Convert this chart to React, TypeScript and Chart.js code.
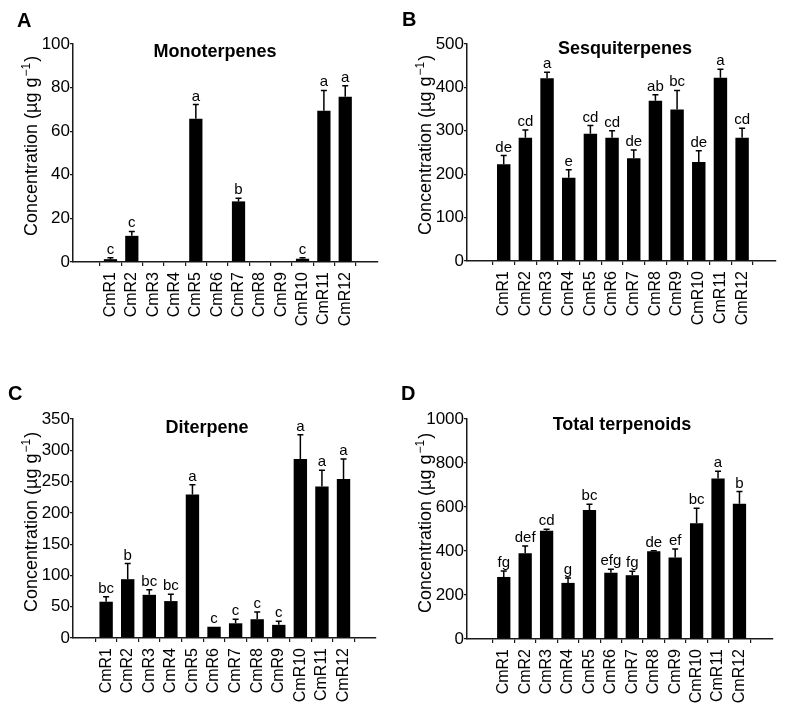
import React, { useEffect, useRef } from "react";
import { Chart, registerables } from "chart.js";

Chart.register(...registerables);

const FAMILY = "'Liberation Sans', Arial, Helvetica, sans-serif";

const categories = ["CmR1", "CmR2", "CmR3", "CmR4", "CmR5", "CmR6", "CmR7", "CmR8", "CmR9", "CmR10", "CmR11", "CmR12"];

// Panel A – Monoterpenes
const monoMean = [1.3, 12, 0, 0, 65.7, 0, 27.8, 0, 0, 1.5, 69.4, 75.8];
const monoErr = [0.6, 2, 0, 0, 6.5, 0, 1.5, 0, 0, 0.4, 9.3, 5.1];
const monoLetters = ["c", "c", "", "", "a", "", "b", "", "", "c", "a", "a"];

// Panel B – Sesquiterpenes
const sesquiMean = [223, 284, 421, 192, 293, 284, 237, 369, 349, 228, 422, 284];
const sesquiErr = [20, 18, 14, 18, 19, 16, 19, 14, 44, 26, 20, 22];
const sesquiLetters = ["de", "cd", "a", "e", "cd", "cd", "de", "ab", "bc", "de", "a", "cd"];

// Panel C – Diterpene
const diMean = [58, 94, 69, 59, 229.5, 18, 23.5, 30, 21, 286, 242, 254];
const diErr = [8, 25, 8, 11, 15.5, 0, 6.5, 11.5, 5.7, 39, 26, 32];
const diLetters = ["bc", "b", "bc", "bc", "a", "c", "c", "c", "c", "a", "a", "a"];

// Panel D – Total terpenoids
const totalMean = [282, 390, 492, 255, 586, 301, 290, 399, 371, 526, 730, 615];
const totalErr = [27, 33, 7, 22, 26, 16, 18, 2, 38, 68, 32, 55];
const totalLetters = ["fg", "def", "cd", "g", "bc", "efg", "fg", "de", "ef", "bc", "a", "b"];

const AXIS_COLOR = "#1a1a1a";

type PanelCfg = {
  letter: string;
  title: string;
  mean: number[];
  err: number[];
  letters: string[];
  yMax: number;
  yStep: number;
  xMin: number;
  xMax: number;
  pad: { top: number; right: number };
  xHeight: number;
  titleX: number;
  titleY: number;
  letterX: number;
  letterY: number;
};

const panelText = {
  id: "panelText",
  afterDraw(chart: any, _args: any, opts: any) {
    const ctx = chart.ctx;
    const area = chart.chartArea;
    ctx.save();
    ctx.fillStyle = "#000";
    // panel letter
    ctx.font = `bold 20px ${FAMILY}`;
    ctx.textAlign = "left";
    ctx.textBaseline = "alphabetic";
    ctx.fillText(opts.letter, opts.letterX, opts.letterY);
    // chart title
    ctx.font = `bold 18px ${FAMILY}`;
    ctx.textAlign = "center";
    ctx.fillText(opts.title, opts.titleX, opts.titleY);
    // y axis title with superscript
    ctx.translate(37, area.bottom - 26);
    ctx.rotate(-Math.PI / 2);
    ctx.textAlign = "left";
    ctx.font = `18px ${FAMILY}`;
    const p1 = "Concentration (µg g";
    ctx.fillText(p1, 0, 0);
    let x = ctx.measureText(p1).width + 1;
    ctx.font = `12px ${FAMILY}`;
    const sup = "\u22121";
    ctx.fillText(sup, x, -7);
    x += ctx.measureText(sup).width + 1;
    ctx.font = `18px ${FAMILY}`;
    ctx.fillText(")", x, 0);
    ctx.restore();
  },
};

const errorBars = {
  id: "errorBars",
  afterDatasetsDraw(chart: any, _args: any, opts: any) {
    const ctx = chart.ctx;
    const xs = chart.scales.x;
    const ys = chart.scales.y;
    const mean: number[] = opts.mean;
    const err: number[] = opts.err;
    const letters: string[] = opts.letters;
    ctx.save();
    ctx.strokeStyle = "#000";
    ctx.fillStyle = "#000";
    ctx.lineWidth = 1.5;
    ctx.font = `15px ${FAMILY}`;
    ctx.textAlign = "center";
    ctx.textBaseline = "alphabetic";
    mean.forEach((m, i) => {
      const x = xs.getPixelForValue(i + 1);
      const yb = ys.getPixelForValue(m);
      const yt = ys.getPixelForValue(m + err[i]);
      if (err[i] > 0 && m > 0) {
        ctx.beginPath();
        ctx.moveTo(x, yb);
        ctx.lineTo(x, yt);
        ctx.moveTo(x - 3, yt);
        ctx.lineTo(x + 3, yt);
        ctx.stroke();
      }
      if (letters[i]) {
        ctx.fillText(letters[i], x, Math.min(yt, yb) - 4);
      }
    });
    ctx.restore();
  },
};

function buildConfig(p: PanelCfg): any {
  return {
    type: "bar",
    data: {
      datasets: [
        {
          data: categories.map((_, i) => ({ x: i + 1, y: p.mean[i] })),
          backgroundColor: "#000",
          borderWidth: 0,
          barPercentage: 0.62,
          categoryPercentage: 1,
        },
      ],
    },
    options: {
      animation: false,
      responsive: false,
      maintainAspectRatio: false,
      layout: { padding: { left: 0, top: p.pad.top, right: p.pad.right, bottom: 0 }, autoPadding: false },
      plugins: {
        legend: { display: false },
        tooltip: { enabled: false },
        title: { display: false },
        errorBars: { mean: p.mean, err: p.err, letters: p.letters },
        panelText: {
          letter: p.letter,
          title: p.title,
          titleX: p.titleX,
          titleY: p.titleY,
          letterX: p.letterX,
          letterY: p.letterY,
        },
      },
      scales: {
        x: {
          type: "linear",
          min: p.xMin,
          max: p.xMax,
          afterBuildTicks: (s: any) => {
            s.ticks = categories.map((_, i) => ({ value: i + 1 }));
          },
          afterFit: (s: any) => {
            s.height = p.xHeight;
          },
          ticks: {
            callback: (v: any) => categories[Math.round(v) - 1] ?? "",
            autoSkip: false,
            maxRotation: 90,
            minRotation: 90,
            padding: 6,
            color: "#000",
            font: { family: FAMILY, size: 16 },
          },
          grid: {
            display: true,
            drawOnChartArea: false,
            drawTicks: true,
            tickLength: 4,
            color: AXIS_COLOR,
            lineWidth: 1.2,
          },
          border: { display: true, color: AXIS_COLOR, width: 1.5 },
        },
        y: {
          min: 0,
          max: p.yMax,
          afterFit: (s: any) => {
            s.width = 73;
          },
          ticks: {
            stepSize: p.yStep,
            padding: 0,
            color: "#000",
            font: { family: FAMILY, size: 17 },
            callback: (v: any) => String(v),
          },
          grid: {
            display: true,
            drawOnChartArea: false,
            drawTicks: true,
            tickLength: 3,
            color: AXIS_COLOR,
            lineWidth: 1.2,
          },
          border: { display: true, color: AXIS_COLOR, width: 1.5 },
        },
      },
    },
    plugins: [errorBars, panelText],
  };
}

const panels: { cfg: PanelCfg; left: number; top: number }[] = [
  {
    left: 0,
    top: 0,
    cfg: {
      letter: "A", title: "Monoterpenes", mean: monoMean, err: monoErr, letters: monoLetters,
      yMax: 100, yStep: 20, xMin: -0.16, xMax: 12.94, pad: { top: 44, right: 16 }, xHeight: 95,
      titleX: 215, titleY: 57, letterX: 17, letterY: 27,
    },
  },
  {
    left: 394,
    top: 0,
    cfg: {
      letter: "B", title: "Sesquiterpenes", mean: sesquiMean, err: sesquiErr, letters: sesquiLetters,
      yMax: 500, yStep: 100, xMin: -0.1, xMax: 12.97, pad: { top: 44, right: 12 }, xHeight: 96,
      titleX: 231, titleY: 54, letterX: 8, letterY: 26,
    },
  },
  {
    left: 0,
    top: 357,
    cfg: {
      letter: "C", title: "Diterpene", mean: diMean, err: diErr, letters: diLetters,
      yMax: 350, yStep: 50, xMin: 0.05, xMax: 12.92, pad: { top: 62, right: 18 }, xHeight: 76,
      titleX: 207, titleY: 76, letterX: 8, letterY: 43,
    },
  },
  {
    left: 394,
    top: 357,
    cfg: {
      letter: "D", title: "Total terpenoids", mean: totalMean, err: totalErr, letters: totalLetters,
      yMax: 1000, yStep: 200, xMin: -0.12, xMax: 12.97, pad: { top: 62, right: 15 }, xHeight: 75,
      titleX: 228, titleY: 73, letterX: 7, letterY: 43,
    },
  },
];

function Panel({ cfg, left, top }: { cfg: PanelCfg; left: number; top: number }) {
  const ref = useRef<HTMLCanvasElement | null>(null);
  useEffect(() => {
    if (!ref.current) return;
    const chart = new Chart(ref.current, buildConfig(cfg));
    return () => chart.destroy();
  }, [cfg]);
  return (
    <canvas
      ref={ref}
      width={394}
      height={357}
      style={{ position: "absolute", left, top, width: 394, height: 357 }}
    />
  );
}

export default function App() {
  return (
    <div style={{ position: "absolute", left: 0, top: 0, width: 788, height: 714, background: "#fff" }}>
      {panels.map((p, i) => (
        <Panel key={i} cfg={p.cfg} left={p.left} top={p.top} />
      ))}
    </div>
  );
}
